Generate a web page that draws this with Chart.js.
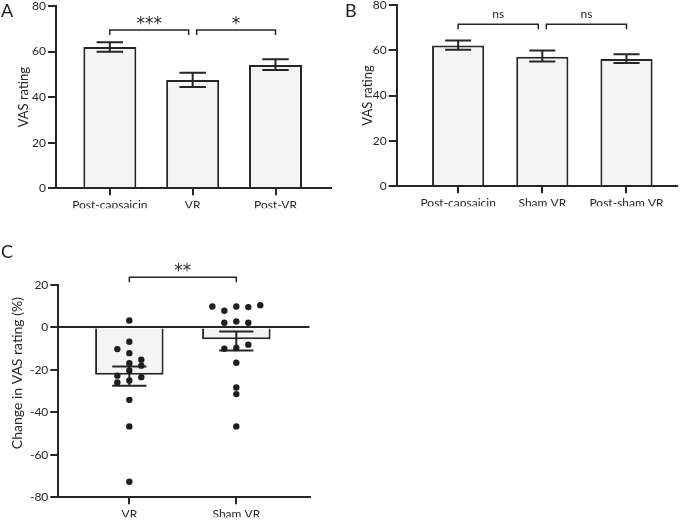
<!DOCTYPE html>
<html><head><meta charset="utf-8">
<script src="https://cdn.jsdelivr.net/npm/chart.js@4"></script>
<style>
html,body{margin:0;padding:0;background:#fff;width:680px;height:521px;overflow:hidden;position:relative;font-family:Lato,"Liberation Sans",sans-serif;}
canvas{position:absolute;}
.lbl{position:absolute;font-size:18px;line-height:18px;color:#222;font-family:Lato,"Liberation Sans",sans-serif;}
</style></head><body>
<canvas id="cA"></canvas><canvas id="cB"></canvas><canvas id="cC"></canvas>
<div class="lbl" style="left:1px;top:1px">A</div>
<div class="lbl" style="left:345px;top:1px">B</div>
<div class="lbl" style="left:1px;top:242px">C</div>
<script>
// ---------- data ----------
const aLabels = ['Post-capsaicin', 'VR', 'Post-VR'];
const aMeans = [62.0, 47.5, 54.1];
const aErrLow = [59.9, 44.5, 51.9];
const aErrHigh = [64.1, 50.7, 56.6];
const aSigFrom = [0, 1];
const aSigTo = [1, 2];
const aSigY = [69.5, 69.5];
const aSigText = ['***', '*'];

const bLabels = ['Post-capsaicin', 'Sham VR', 'Post-sham VR'];
const bMeans = [62.0, 57.1, 56.1];
const bErrLow = [60.1, 55.0, 54.3];
const bErrHigh = [64.2, 59.8, 58.2];
const bSigFrom = [0, 1];
const bSigTo = [1, 2];
const bSigY = [71.4, 71.4];
const bSigText = ['ns', 'ns'];

const cLabels = ['VR', 'Sham VR'];
const cMeans = [-22.3, -5.5];
const cErrLow = [-27.5, -10.8];
const cErrHigh = [-18.4, -1.9];
const cSigFrom = [0];
const cSigTo = [1];
const cSigY = [23.7];
const cSigText = ['**'];
// individual participants (swarm column index = horizontal jitter slot)
const vrValues = [3.3, -6.7, -10.2, -12.1, -15.2, -16.8, -18.0, -20.3, -22.7, -23.4, -25.0, -25.9, -34.1, -46.6, -72.7];
const vrCols   = [0, 0, -1, 0, 1, 0, 1, 0, -1, 1, 0, -1, 0, 0, 0];
const shamValues = [9.9, 7.9, 9.9, 9.6, 10.5, 2.2, 2.8, 2.2, -10.0, -9.7, -8.1, -16.6, -28.3, -31.4, -46.6];
const shamCols   = [-2, -1, 0, 1, 2, -1, 0, 1, -1, 0, 1, 0, 0, 0, 0];

// ---------- style ----------
const INK = '#262626';
const FILL = '#f3f4f3';
const FONT = 'Lato, "Liberation Sans", sans-serif';
const COL_STEP = 0.112;

function errorBars(low, high) {
  return {
    id: 'errbars',
    afterDatasetDraw(chart, args) {
      if (args.meta.type !== 'bar') return;
      const ctx = chart.ctx, ys = chart.scales.y;
      ctx.save();
      ctx.strokeStyle = INK; ctx.lineWidth = 2;
      args.meta.data.forEach((bar, i) => {
        const x = bar.x, half = bar.width / 4;
        const yl = ys.getPixelForValue(low[i]), yh = ys.getPixelForValue(high[i]);
        ctx.beginPath();
        ctx.moveTo(x, yl); ctx.lineTo(x, yh);
        ctx.moveTo(x - half, yl); ctx.lineTo(x + half, yl);
        ctx.moveTo(x - half, yh); ctx.lineTo(x + half, yh);
        ctx.stroke();
      });
      ctx.restore();
    }
  };
}

function brackets(from, to, yv, text, font, gap) {
  return {
    id: 'brackets',
    afterDraw(chart) {
      const ctx = chart.ctx, xs = chart.scales.x, ys = chart.scales.y;
      ctx.save();
      ctx.strokeStyle = INK; ctx.lineWidth = 1.5; ctx.fillStyle = INK;
      ctx.font = font; ctx.textAlign = 'center'; ctx.textBaseline = 'alphabetic';
      for (let i = 0; i < from.length; i++) {
        let x1 = xs.getPixelForValue(from[i]);
        let x2 = xs.getPixelForValue(to[i]);
        if (to.includes(from[i])) x1 += 4;
        if (from.includes(to[i])) x2 -= 4;
        const yy = ys.getPixelForValue(yv[i]);
        ctx.beginPath();
        ctx.moveTo(x1, yy + 5); ctx.lineTo(x1, yy); ctx.lineTo(x2, yy); ctx.lineTo(x2, yy + 5);
        ctx.stroke();
        ctx.fillText(text[i], (x1 + x2) / 2, yy - gap);
      }
      ctx.restore();
    }
  };
}

function makeChart(id, box, area, cfg) {
  const cv = document.getElementById(id);
  cv.style.left = box.x + 'px'; cv.style.top = box.y + 'px';
  cv.width = box.w; cv.height = box.h;
  cv.style.width = box.w + 'px'; cv.style.height = box.h + 'px';
  const xH = 20;
  const yW = area.L - box.x;
  const padding = {
    left: 0,
    top: area.T - box.y,
    right: box.x + box.w - area.R,
    bottom: box.y + box.h - area.B - xH
  };
  const datasets = [{
    type: 'bar',
    data: cfg.means.map((v, i) => ({x: i, y: v})),
    backgroundColor: FILL,
    borderColor: INK,
    borderWidth: 2,
    borderSkipped: 'start',
    categoryPercentage: 1,
    barPercentage: cfg.barPct,
    order: 2
  }];
  if (cfg.points) datasets.push({
    type: 'scatter', order: 1, data: cfg.points,
    pointRadius: 3.2, pointBackgroundColor: '#1e1e1e', pointBorderWidth: 0
  });
  const tickFont = {family: FONT, size: 12};
  return new Chart(cv, {
    type: 'bar',
    data: {datasets},
    options: {
      responsive: false, animation: false,
      layout: {padding},
      plugins: {legend: {display: false}, tooltip: {enabled: false}},
      scales: {
        x: {
          type: 'linear', offset: false, min: cfg.xMin, max: cfg.xMax,
          afterBuildTicks: s => { s.ticks = cfg.labels.map((_, i) => ({value: i})); },
          afterFit: s => { s.height = xH; },
          ticks: {callback: v => cfg.labels[v], font: tickFont, color: INK, padding: 3, autoSkip: false, maxRotation: 0},
          grid: {offset: false, drawOnChartArea: false, tickLength: 7, tickColor: INK, lineWidth: 2},
          border: {display: true, color: INK, width: 2, z: 1}
        },
        y: {
          min: cfg.yMin, max: cfg.yMax,
          afterFit: s => { s.width = yW; },
          ticks: {stepSize: 20, font: tickFont, color: INK, padding: 2},
          grid: cfg.zeroLine ? {
            z: 1, drawOnChartArea: true, lineWidth: 2, tickLength: 8, tickColor: INK,
            color: c => (c.tick && c.tick.value === 0) ? INK : 'rgba(0,0,0,0)'
          } : {drawOnChartArea: false, tickLength: 8, tickColor: INK, lineWidth: 2},
          border: {display: true, color: INK, width: 2, z: 1},
          title: cfg.yTitle ? {display: true, text: cfg.yTitle, color: INK,
            font: {family: FONT, size: 13}, padding: {top: cfg.titlePad, bottom: 0}} : {display: false}
        }
      }
    },
    plugins: cfg.plugins
  });
}

makeChart('cA', {x: 0, y: -10, w: 340, h: 230}, {L: 56, T: 6, R: 331, B: 188.3}, {
  labels: aLabels, means: aMeans, xMin: -0.65, xMax: 2.67, yMin: 0, yMax: 80, barPct: 0.64,
  yTitle: 'VAS rating', titlePad: 16,
  plugins: [errorBars(aErrLow, aErrHigh), brackets(aSigFrom, aSigTo, aSigY, aSigText, '17px "DejaVu Sans"', 1)]
});

makeChart('cB', {x: 340, y: -10, w: 340, h: 230}, {L: 396.7, T: 4.7, R: 677, B: 186.3}, {
  labels: bLabels, means: bMeans, xMin: -0.73, xMax: 2.6, yMin: 0, yMax: 80, barPct: 0.62,
  yTitle: 'VAS rating', titlePad: 20,
  plugins: [errorBars(bErrLow, bErrHigh), brackets(bSigFrom, bSigTo, bSigY, bSigText, '12px ' + FONT, 6)]
});

const cPoints = vrValues.map((v, i) => ({x: 0 + vrCols[i] * COL_STEP, y: v}))
  .concat(shamValues.map((v, i) => ({x: 1 + shamCols[i] * COL_STEP, y: v})));
const cTitle = {
  id: 'ctitle',
  afterDraw(chart) {
    const ctx = chart.ctx, a = chart.chartArea;
    ctx.save();
    ctx.translate(a.left - 41, (a.top + a.bottom) / 2 - 18);
    ctx.rotate(-Math.PI / 2);
    ctx.font = '14px ' + FONT; ctx.fillStyle = INK;
    ctx.textAlign = 'center'; ctx.textBaseline = 'middle';
    ctx.fillText('Change in VAS rating (%)', 0, 0);
    ctx.restore();
  }
};
makeChart('cC', {x: 0, y: 240, w: 340, h: 281}, {L: 58.3, T: 285, R: 309.5, B: 497.3}, {
  labels: cLabels, means: cMeans, xMin: -0.664, xMax: 1.684, yMin: -80, yMax: 20, barPct: 0.64,
  zeroLine: true, points: cPoints,
  plugins: [errorBars(cErrLow, cErrHigh), brackets(cSigFrom, cSigTo, cSigY, cSigText, '17px "DejaVu Sans"', 1), cTitle]
});
</script>
</body></html>
